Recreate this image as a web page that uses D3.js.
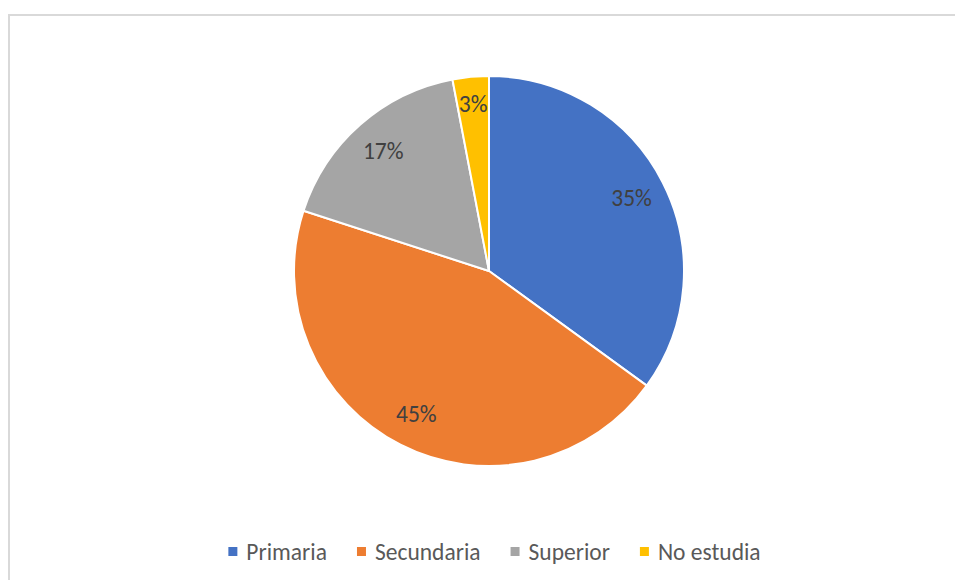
<!DOCTYPE html>
<html><head><meta charset="utf-8">
<script src="https://cdn.jsdelivr.net/npm/d3@7"></script>
<style>body{margin:0;background:#fff}svg{display:block}</style>
</head><body>
<svg id="c" width="955" height="580"></svg>
<script>
const categories = ["Primaria", "Secundaria", "Superior", "No estudia"];
const values = [35, 45, 17, 3];
const colors = ["#4472C4", "#ED7D31", "#A5A5A5", "#FFC000"];

const svg = d3.select("#c");
svg.append("rect").attr("x", 9).attr("y", 15).attr("width", 960).attr("height", 600)
  .attr("fill", "#fff").attr("stroke", "#d9d9d9").attr("stroke-width", 2);

const cx = 489, cy = 271, R = 195;
const FONT = "Carlito, Calibri, 'Liberation Sans', sans-serif";
const g = svg.append("g").attr("transform", `translate(${cx},${cy})`);
const pie = d3.pie().sort(null).value(d => d)(values);
const arc = d3.arc().innerRadius(0).outerRadius(R);
g.selectAll("path").data(pie).join("path")
  .attr("d", arc).attr("fill", (d, i) => colors[i])
  .attr("stroke", "#fff").attr("stroke-width", 2).attr("stroke-linejoin", "round");

const total = d3.sum(values);
g.selectAll("text.lbl").data(pie).join("text").attr("class", "lbl")
  .attr("transform", d => {
    const r = (d.endAngle - d.startAngle) < 0.3 ? 168 : 160;
    const a = (d.startAngle + d.endAngle) / 2;
    return `translate(${Math.sin(a) * r},${-Math.cos(a) * r})`;
  })
  .attr("text-anchor", "middle").attr("dominant-baseline", "central")
  .attr("font-family", FONT)
  .attr("font-size", 23.5).attr("fill", "#404040")
  .text(d => Math.round(d.data / total * 100) + "%");

// legend
const lg = svg.append("g");
const items = lg.selectAll("g").data(categories).join("g");
items.append("rect").attr("width", 9).attr("height", 9).attr("y", -4.5)
  .attr("fill", (d, i) => colors[i]);
items.append("text").attr("x", 18).attr("dominant-baseline", "central")
  .attr("font-family", FONT)
  .attr("font-size", 23.5).attr("fill", "#595959").text(d => d);
let x = 0; const gap = 30;
items.each(function () {
  const w = 18 + this.querySelector("text").getComputedTextLength();
  d3.select(this).attr("transform", `translate(${x},0)`);
  x += w + gap;
});
const tw = x - gap;
lg.attr("transform", `translate(${494.5 - tw / 2},551.5)`);
</script>
</body></html>
